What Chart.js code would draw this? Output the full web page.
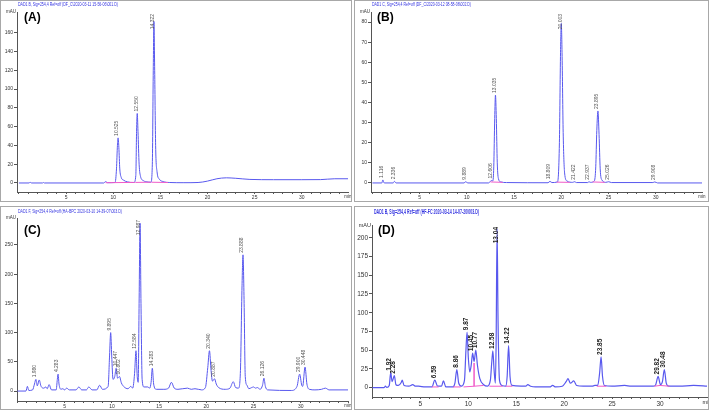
<!DOCTYPE html>
<html>
<head>
<meta charset="utf-8">
<title>HPLC chromatograms (A)-(D)</title>
<script src="https://cdn.jsdelivr.net/npm/chart.js@4.4.1/dist/chart.umd.min.js"></script>
<style>
  body { margin: 0; background: #fff; }
  .panel { position: absolute; box-sizing: border-box; border: 1px solid #a8a8a8; }
  .panel > div { position: absolute; left: 0; top: 0; right: 0; bottom: 0; }
</style>
</head>
<body>

<div class="panel" style="left:0;top:0;width:352px;height:202px"><div><canvas id="chartA"></canvas></div></div>
<div class="panel" style="left:354px;top:0;width:355px;height:202px"><div><canvas id="chartB"></canvas></div></div>
<div class="panel" style="left:0;top:206px;width:352px;height:204px"><div><canvas id="chartC"></canvas></div></div>
<div class="panel" style="left:354px;top:206px;width:355px;height:204px"><div><canvas id="chartD"></canvas></div></div>

<script>
// ==========================
// DATA
// ==========================

const xTickLabels = [5, 10, 15, 20, 25, 30];

// (A)
const titleA = "DAD1 B, Sig=254,4 Ref=off (DF_C\\2020-03-11 15-56-06\\001.D)";
const yTicksA = [0, 20, 40, 60, 80, 100, 120, 140, 160];
const traceA = [
    [0, 0], [1.1, 0], [1.2, 1], [1.3, 0], [2.5, 0], [2.6, 0.5], [2.7, 0],
    [9.0, 0], [9.2, 1.5], [9.4, 0.3], [10.2, 0.5], [10.35, 15], [10.45, 40],
    [10.52, 48], [10.6, 38], [10.7, 15], [10.85, 6], [11.1, 3], [11.5, 1.2],
    [12.2, 0.5], [12.4, 8], [12.48, 55], [12.55, 74], [12.63, 55], [12.75, 20],
    [12.9, 7], [13.2, 2.5], [13.7, 1], [14.0, 0.8], [14.15, 20], [14.25, 120],
    [14.32, 172], [14.4, 120], [14.5, 40], [14.65, 12], [14.9, 4], [15.3, 1.5],
    [16.0, 0.5], [17.5, 0.3], [19.0, 0.5], [20.0, 2], [21.0, 4.5], [22.0, 5.5],
    [23.0, 5], [24.5, 3.8], [27.0, 3.5], [30.0, 3.5], [32.0, 3.6], [33.5, 4.5], [35, 4.5]
];
const baselineA = [
    [9.2, 0.3], [12.3, 0.6], [12.32, null], [12.35, 0.6], [14.0, 0.8],
    [14.02, null], [14.05, 0.8], [15.8, 0.5]
];
const peakTimesA = [10.52, 12.55, 14.32];
const peakLabelsA = ["10.525", "12.550", "14.322"];

// (B)
const titleB = "DAD1 C, Sig=254,4 Ref=off (DF_C\\2020-03-12 08-58-06\\002.D)";
const yTicksB = [0, 10, 20, 30, 40, 50, 60, 70, 80];
const traceB = [
    [0, 0], [1.0, 0], [1.1, 1.5], [1.25, 0], [2.2, 0], [2.33, 0.8], [2.5, 0],
    [9.7, 0], [9.88, 0.6], [10.1, 0], [12.3, 0], [12.6, 1.2], [12.75, 1],
    [12.85, 8], [12.95, 32], [13.03, 43.7], [13.12, 32], [13.22, 10], [13.35, 2],
    [13.6, 0.5], [14.2, 0.2], [18.6, 0.1], [18.8, 0.8], [19.0, 0.2], [19.6, 0.5],
    [19.8, 20], [19.92, 65], [20.0, 79.3], [20.08, 65], [20.2, 25], [20.35, 5],
    [20.6, 1], [21.2, 0.3], [21.42, 0.6], [21.6, 0.2], [22.8, 0.2], [22.93, 0.6],
    [23.1, 0.3], [23.5, 1], [23.65, 8], [23.76, 26], [23.88, 35.8], [24.0, 24],
    [24.12, 7], [24.3, 1.5], [24.7, 0.3], [25.02, 0.6], [25.3, 0.2], [29.7, 0.2],
    [29.9, 0.5], [30.2, 0], [35, 0]
];
const baselineB = [
    [12.5, 0.5], [13.8, 0.3], [13.82, null], [19.5, 0.4], [20.9, 0.3],
    [20.92, null], [23.3, 0.5], [24.6, 0.3]
];
const peakTimesB = [1.1, 2.33, 9.88, 12.6, 13.03, 18.8, 20.0, 21.42, 22.93, 23.88, 25.02, 29.9];
const peakLabelsB = ["1.116", "2.336", "9.889", "12.606", "13.035", "18.809",
    "20.003", "21.422", "22.937", "23.895", "25.026", "29.908"];

// (C)
const titleC = "DAD1 F, Sig=254,4 Ref=off (HA-BPC 2020-03-10 14-39-07\\003.D)";
const yTicksC = [0, 50, 100, 150, 200, 250];
const traceC = [
    [0, 0], [0.9, 0], [1.05, 8], [1.2, 1], [1.6, 2], [1.8, 12], [1.95, 20],
    [2.1, 9], [2.3, 19], [2.5, 8], [2.8, 5], [3.0, 7], [3.15, 4], [3.35, 11],
    [3.6, 2], [4.1, 2], [4.22, 20], [4.3, 29], [4.4, 12], [4.6, 3], [4.8, 4],
    [5.0, 2], [5.2, 5], [5.5, 2], [6.2, 2], [6.5, 7], [6.8, 2], [7.3, 2],
    [7.55, 7], [7.9, 2], [8.4, 2], [8.7, 10], [9.0, 3], [9.6, 8], [9.75, 60],
    [9.87, 100], [9.98, 60], [10.12, 20], [10.3, 25], [10.45, 39], [10.6, 22],
    [10.8, 25], [11.0, 14], [11.3, 7], [11.7, 4], [12.0, 8], [12.2, 5], [12.4, 30],
    [12.55, 69], [12.68, 25], [12.78, 15], [12.88, 150], [12.98, 287], [13.08, 150],
    [13.2, 20], [13.4, 7], [13.8, 7], [14.0, 5], [14.15, 15], [14.28, 39],
    [14.42, 12], [14.7, 3], [15.5, 3], [16.0, 5], [16.3, 15], [16.6, 5], [17.0, 3],
    [18.0, 5], [18.4, 3], [18.8, 4], [19.5, 2], [19.9, 6], [20.15, 40], [20.33, 69],
    [20.5, 35], [20.65, 17], [20.87, 21], [21.05, 12], [21.3, 6], [22.0, 3],
    [22.5, 5], [22.85, 16], [23.1, 6], [23.4, 5], [23.6, 30], [23.78, 180],
    [23.88, 233], [24.0, 150], [24.12, 25], [24.3, 10], [24.5, 4], [24.8, 6],
    [25.0, 7], [25.2, 5], [25.4, 6], [25.7, 3], [25.95, 10], [26.1, 22], [26.25, 8],
    [26.5, 2], [29.0, 1], [29.6, 8], [29.88, 29], [30.1, 10], [30.2, 8], [30.45, 41],
    [30.65, 12], [30.9, 3], [31.5, 2], [32.2, 3], [32.6, 5], [33.0, 2], [35, 2]
];
const baselineC = [];
const peakTimesC = [1.95, 4.3, 9.87, 10.45, 10.8, 12.55, 12.98, 14.28, 20.33, 20.87, 23.88, 26.1, 29.88, 30.45];
const peakLabelsC = ["1.980", "4.283", "9.895", "10.447", "10.802", "12.584", "12.987",
    "14.283", "20.340", "20.887", "23.888", "26.126", "29.900", "30.448"];

// (D)
const titleD = "DAD1 B, Sig=254,4 Ref=off (HF-FC 2020-03-14 14-07-20\\003.D)";
const yTicksD = [0, 25, 50, 75, 100, 125, 150, 175, 200];
const traceD = [
    [0, 0], [1.2, 0], [1.35, 2], [1.5, 0.5], [1.75, 3], [1.9, 20], [2.05, 8],
    [2.28, 16], [2.45, 4], [2.7, 3], [3.0, 7], [3.1, 10], [3.3, 3], [3.8, 2],
    [4.2, 4], [4.5, 2], [4.8, 2], [5.5, 1], [6.2, 1], [6.5, 10], [6.8, 2],
    [7.2, 2], [7.4, 9], [7.65, 1], [8.4, 1], [8.6, 6], [8.8, 24], [9.0, 6],
    [9.3, 2], [9.6, 10], [9.75, 50], [9.87, 74], [10.0, 40], [10.15, 21],
    [10.3, 30], [10.45, 46], [10.6, 35], [10.78, 50], [10.95, 30], [11.2, 12],
    [11.6, 4], [12.0, 2], [12.3, 10], [12.45, 35], [12.56, 49], [12.68, 25],
    [12.82, 6], [12.9, 60], [13.0, 212], [13.1, 90], [13.25, 10], [13.5, 3],
    [13.9, 2], [14.05, 15], [14.2, 56], [14.35, 15], [14.55, 3], [15.5, 2],
    [16.0, 2], [16.2, 4], [16.5, 2], [17.0, 1], [18.5, 1], [18.8, 3], [19.1, 1],
    [19.8, 2], [20.2, 8], [20.4, 12], [20.65, 6], [21.0, 9], [21.3, 3], [22.0, 2],
    [22.9, 2], [23.2, 3], [23.5, 3], [23.7, 20], [23.85, 41], [24.0, 15],
    [24.2, 3], [25.0, 2], [26.3, 3], [27.0, 2], [29.3, 2], [29.55, 4], [29.8, 15],
    [30.05, 4], [30.25, 8], [30.45, 24], [30.65, 6], [30.9, 2], [32.0, 2],
    [33.5, 3], [35, 2]
];
const baselineD = [
    [6.2, 1], [6.9, 1], [6.92, null], [8.4, 1], [9.2, 1], [9.22, null],
    [9.5, 1], [10.6, 2], [10.6, 33], [10.6, 2], [11.6, 3], [11.62, null],
    [12.2, 2], [13.6, 2], [13.62, null], [13.9, 2], [14.6, 2], [14.62, null],
    [23.4, 2], [24.4, 2], [24.42, null], [29.4, 2], [30.0, 3], [31.0, 2]
];
const peakTimesD = [1.9, 2.28, 6.5, 8.8, 9.87, 10.45, 10.78, 12.56, 13.0, 14.2, 23.85, 29.8, 30.45];
const peakLabelsD = ["1.92", "2.28", "6.59", "8.86", "9.87", "10.45", "10.77",
    "12.58", "13.04", "14.22", "23.85", "29.82", "30.48"];


// ==========================
// HELPERS
// ==========================

function peakTop(trace, t) {
    let top = 0;
    trace.forEach(p => {
        if (Math.abs(p[0] - t) <= 0.12 && p[1] > top) top = p[1];
    });
    return top;
}

function toPoints(list) {
    return list.map(p => ({ x: p[0], y: p[1] }));
}

function decorPlugin(p) {
    return {
        id: "decor",
        afterDraw(chart) {
            const { ctx, chartArea, scales } = chart;
            ctx.save();

            // peak labels, rotated
            ctx.fillStyle = p.labelColor;
            ctx.font = p.labelFont;
            ctx.textAlign = "left";
            ctx.textBaseline = "middle";
            p.peakTimes.forEach((t, i) => {
                const txt = p.peakLabels[i];
                const w = ctx.measureText(txt).width;
                const px = scales.x.getPixelForValue(t) - 1;
                let py = scales.y.getPixelForValue(peakTop(p.trace, t)) - 2;
                if (py - w < chartArea.top + 2) py = chartArea.top + 2 + w;
                ctx.save();
                ctx.translate(px, py);
                ctx.rotate(-Math.PI / 2);
                ctx.fillText(txt, 0, 0);
                ctx.restore();
            });

            // file title
            ctx.fillStyle = "#3434e0";
            ctx.font = p.titleFont;
            ctx.fillText(p.title, p.titlePos[0], p.titlePos[1], p.titlePos[2]);

            // panel letter
            ctx.fillStyle = "#000";
            ctx.font = "bold 12px 'Liberation Sans', Arial";
            ctx.fillText(p.letter, p.letterPos[0], p.letterPos[1]);

            // unit labels
            ctx.fillStyle = "#333";
            ctx.font = p.unitFont;
            ctx.textAlign = "right";
            ctx.fillText("mAU", chartArea.left - 1, chartArea.top);
            ctx.textAlign = "center";
            ctx.textBaseline = "top";
            ctx.fillText("min", chartArea.right, chartArea.bottom + 3);

            ctx.restore();
        }
    };
}


// ==========================
// CHARTS
// ==========================

function drawPanel(id, p) {

    const ctx = document.querySelector(id).getContext("2d");
    const tickFont = { family: "'Liberation Sans', Arial", size: p.tickSize };

    return new Chart(ctx, {

        type: "line",

        data: {
            datasets: [
                {
                    data: toPoints(p.baseline),
                    borderColor: "#f05ac8",
                    borderWidth: 1,
                    pointRadius: 0,
                    tension: 0,
                    spanGaps: false,
                    order: 0
                },
                {
                    data: toPoints(p.trace),
                    borderColor: "#5858ee",
                    borderWidth: p.lineWidth,
                    pointRadius: 0,
                    cubicInterpolationMode: "monotone",
                    order: 1
                }
            ]
        },

        options: {
            responsive: true,
            maintainAspectRatio: false,
            animation: false,
            events: [],
            layout: {
                padding: { left: 0, top: p.pad[0], right: p.pad[1], bottom: 0 }
            },
            plugins: {
                legend: { display: false },
                tooltip: { enabled: false }
            },
            scales: {
                x: {
                    type: "linear",
                    min: p.xRange[0],
                    max: p.xRange[1],
                    afterBuildTicks: s => {
                        const ticks = [];
                        for (let v = Math.ceil(s.min); v <= s.max; v++) ticks.push({ value: v });
                        s.ticks = ticks;
                    },
                    afterFit: s => { s.height = p.xHeight; },
                    grid: { drawOnChartArea: false, drawTicks: true, tickLength: 2, color: "#555" },
                    border: { display: true, color: "#555", width: 1 },
                    ticks: {
                        font: tickFont,
                        color: "#333",
                        padding: 1,
                        autoSkip: false,
                        maxRotation: 0,
                        callback: v => xTickLabels.includes(v) ? String(v) : ""
                    }
                },
                y: {
                    type: "linear",
                    min: p.yRange[0],
                    max: p.yRange[1],
                    afterBuildTicks: s => { s.ticks = p.yTicks.map(v => ({ value: v })); },
                    afterFit: s => { s.width = p.yWidth; },
                    grid: { drawOnChartArea: false, drawTicks: true, tickLength: 3, color: "#555" },
                    border: { display: true, color: "#555", width: 1 },
                    ticks: {
                        font: tickFont,
                        color: "#333",
                        padding: 1,
                        callback: v => String(v)
                    }
                }
            }
        },

        plugins: [decorPlugin(p)]

    });

}

const smallLabels = {
    labelFont: "5px 'Liberation Sans', Arial",
    labelColor: "#555",
    titleFont: "5.5px 'Liberation Sans', Arial",
    unitFont: "4.5px 'Liberation Sans', Arial",
    tickSize: 5,
    lineWidth: 1
};

drawPanel("#chartA", Object.assign({}, smallLabels, {
    trace: traceA, baseline: baselineA, peakTimes: peakTimesA, peakLabels: peakLabelsA,
    yTicks: yTicksA, title: titleA, letter: "(A)",
    xRange: [-0.2, 34.9], yRange: [-9.6, 182],
    pad: [11, 3], yWidth: 16, xHeight: 9,
    titlePos: [17, 3.5, 100], letterPos: [23, 17]
}));

drawPanel("#chartB", Object.assign({}, smallLabels, {
    trace: traceB, baseline: baselineB, peakTimes: peakTimesB, peakLabels: peakLabelsB,
    yTicks: yTicksB, title: titleB, letter: "(B)",
    xRange: [-0.15, 34.9], yRange: [-4.5, 85],
    pad: [11, 6], yWidth: 16, xHeight: 9,
    titlePos: [17, 3.5, 99], letterPos: [22, 17]
}));

drawPanel("#chartC", Object.assign({}, smallLabels, {
    trace: traceC, baseline: baselineC, peakTimes: peakTimesC, peakLabels: peakLabelsC,
    yTicks: yTicksC, title: titleC, letter: "(C)",
    xRange: [-0.05, 35], yRange: [-17, 296],
    pad: [11, 3], yWidth: 16, xHeight: 8,
    titlePos: [17, 4, 104], letterPos: [23, 24]
}));

drawPanel("#chartD", {
    trace: traceD, baseline: baselineD, peakTimes: peakTimesD, peakLabels: peakLabelsD,
    yTicks: yTicksD, title: titleD, letter: "(D)",
    labelFont: "bold 6.5px 'Liberation Sans', Arial",
    labelColor: "#222",
    titleFont: "bold 8px 'Liberation Sans', Arial",
    unitFont: "5.5px 'Liberation Sans', Arial",
    tickSize: 6.5,
    lineWidth: 1.2,
    xRange: [-0.05, 34.9], yRange: [-12.4, 217],
    pad: [18, 1], yWidth: 17, xHeight: 12,
    titlePos: [19, 5, 105], letterPos: [23, 24]
});
</script>
</body>
</html>
